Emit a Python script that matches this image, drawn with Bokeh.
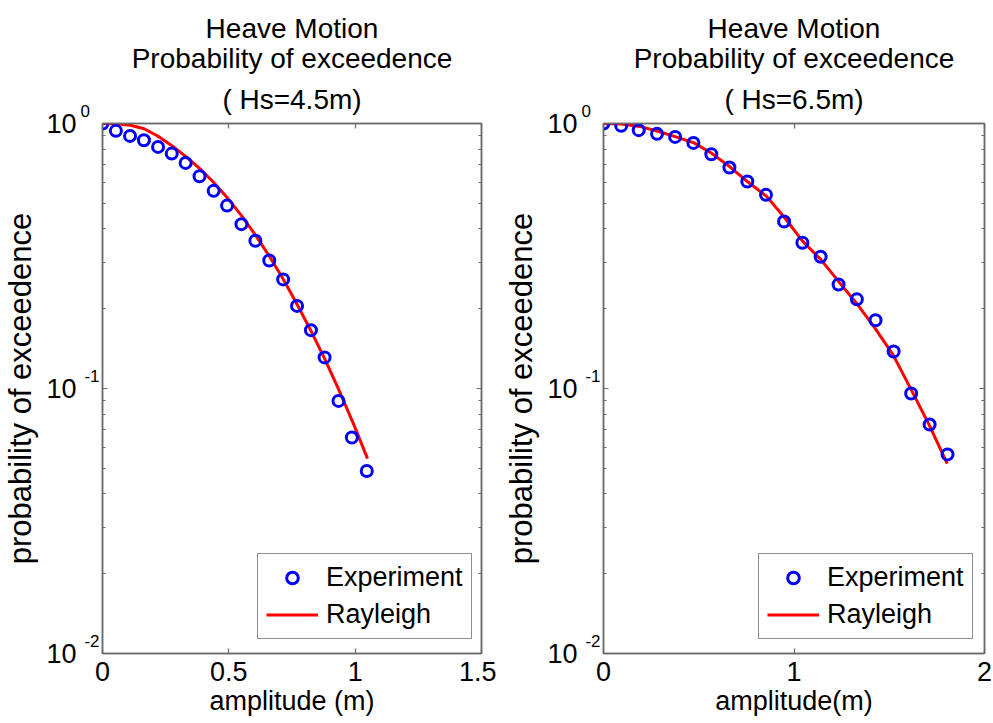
from bokeh.plotting import figure
from bokeh.layouts import row
from bokeh.models import (Range1d, FixedTicker, LinearAxis, LogAxis, Title, Legend,
                          LegendItem, NumeralTickFormatter, CustomJSTickFormatter)
from bokeh.embed import file_html
from bokeh.resources import INLINE

# ---------------- data ----------------
titles_left = ["Heave Motion", "Probability of exceedence", "( Hs=4.5m)"]
titles_right = ["Heave Motion", "Probability of exceedence", "( Hs=6.5m)"]
xlabel_left = "amplitude (m)"
xlabel_right = "amplitude(m)"
ylabel = "probability of exceedence"

left_exp_amp = [0, 0.053, 0.109, 0.164, 0.220, 0.274, 0.329, 0.384, 0.440, 0.493,
                0.550, 0.605, 0.660, 0.715, 0.770, 0.825, 0.879, 0.934, 0.987, 1.046]
left_exp_p = [1.0, 0.938, 0.898, 0.865, 0.816, 0.770, 0.710, 0.632, 0.557, 0.490,
              0.417, 0.361, 0.304, 0.258, 0.205, 0.166, 0.131, 0.0898, 0.0653, 0.0488]
left_ray_amp = [0, 0.055, 0.11, 0.165, 0.22, 0.275, 0.33, 0.385, 0.44, 0.495,
                0.55, 0.605, 0.66, 0.715, 0.77, 0.825, 0.88, 0.935, 0.99, 1.049]
left_ray_p = [1.0, 0.997, 0.985, 0.955, 0.895, 0.825, 0.750, 0.676, 0.599, 0.523,
              0.449, 0.380, 0.316, 0.259, 0.208, 0.165, 0.129, 0.099, 0.0748, 0.0544]

right_exp_amp = [0, 0.093, 0.185, 0.281, 0.376, 0.472, 0.566, 0.661, 0.755, 0.853,
                 0.948, 1.044, 1.140, 1.234, 1.330, 1.428, 1.523, 1.615, 1.712, 1.806]
right_exp_p = [1.0, 0.980, 0.944, 0.914, 0.890, 0.845, 0.766, 0.682, 0.604, 0.538,
               0.427, 0.355, 0.314, 0.247, 0.217, 0.181, 0.138, 0.0958, 0.0731, 0.0564]
right_ray_amp = [0, 0.095, 0.19, 0.285, 0.38, 0.475, 0.57, 0.665, 0.76, 0.855,
                 0.95, 1.045, 1.14, 1.235, 1.33, 1.425, 1.52, 1.615, 1.71, 1.804]
right_ray_p = [1.0, 0.995, 0.975, 0.935, 0.890, 0.845, 0.770, 0.685, 0.600, 0.532,
               0.442, 0.360, 0.307, 0.253, 0.209, 0.169, 0.134, 0.099, 0.0727, 0.0521]

left_xticks = [0, 0.5, 1, 1.5]
right_xticks = [0, 1, 2]
y_major = [0.01, 0.1, 1]
y_tick_base = ["10", "10", "10"]
y_tick_exponent = ["-2", "-1", "0\u00a0\u00a0"]
y_minor = [0.02, 0.03, 0.04, 0.05, 0.06, 0.07, 0.08, 0.09,
           0.2, 0.3, 0.4, 0.5, 0.6, 0.7, 0.8, 0.9]
series_names = ["Experiment", "Rayleigh"]

FONT = "Liberation Sans, DejaVu Sans"
AXCOL = "#6b6b6b"


def style_axis(ax):
    ax.axis_line_color = AXCOL
    ax.axis_line_width = 1.5
    ax.major_tick_line_color = AXCOL
    ax.minor_tick_line_color = AXCOL
    ax.major_tick_line_width = 1.2
    ax.minor_tick_line_width = 1.2
    ax.major_tick_in = 5
    ax.major_tick_out = 0
    ax.minor_tick_in = 3
    ax.minor_tick_out = 0
    ax.major_label_text_font = FONT
    ax.major_label_text_color = "black"


def make_panel(width, border_left, border_right, xmax, xticks, titles, xlabel,
               exp_amp, exp_p, ray_amp, ray_p):
    p = figure(width=width, height=723, output_backend="svg", toolbar_location=None,
               y_axis_type="log", x_range=Range1d(0, xmax), y_range=Range1d(0.01, 1),
               min_border_left=border_left, min_border_right=border_right,
               min_border_top=123, min_border_bottom=70)
    p.title.visible = False
    p.xgrid.visible = False
    p.ygrid.visible = False
    p.outline_line_color = AXCOL
    p.outline_line_width = 1.5

    bottom = p.below[0]
    left = p.left[0]

    xt = FixedTicker(ticks=xticks, minor_ticks=[])
    yt = FixedTicker(ticks=y_major, minor_ticks=y_minor)

    top = LinearAxis(ticker=xt, formatter=CustomJSTickFormatter(code="return ''"))
    right = LogAxis(ticker=yt, formatter=CustomJSTickFormatter(code="return ''"))
    p.add_layout(top, "above")
    p.add_layout(right, "right")

    bottom.ticker = xt
    left.ticker = yt

    for ax in [bottom, top, left, right]:
        style_axis(ax)
    for ax in [top, right]:
        ax.major_label_text_font_size = "1px"
        ax.major_label_standoff = 0

    bottom.formatter = NumeralTickFormatter(format="0.[0]")
    bottom.major_label_text_font_size = "27px"
    bottom.major_label_standoff = 8
    bottom.axis_label = xlabel
    bottom.axis_label_text_font = FONT
    bottom.axis_label_text_font_size = "27px"
    bottom.axis_label_text_font_style = "normal"
    bottom.axis_label_text_color = "black"
    bottom.axis_label_standoff = 2

    # inner left axis: the raised exponents (second, blank line lifts them)
    left.formatter = CustomJSTickFormatter(code="return ''")
    left.major_label_overrides = {v: e + "\n\u00a0" for v, e in zip(y_major, y_tick_exponent)}
    left.major_label_text_font_size = "17px"
    left.major_label_text_line_height = 1.3
    left.major_label_standoff = 3

    # outer left axis: the base "10" and the axis title
    outer = LogAxis(ticker=yt, formatter=CustomJSTickFormatter(code="return ''"))
    outer.major_label_overrides = dict(zip(y_major, y_tick_base))
    outer.axis_line_color = None
    outer.major_tick_line_color = None
    outer.minor_tick_line_color = None
    outer.major_tick_in = 0
    outer.major_tick_out = 0
    outer.minor_tick_in = 0
    outer.minor_tick_out = 0
    outer.major_label_text_font = FONT
    outer.major_label_text_font_size = "27px"
    outer.major_label_text_color = "black"
    outer.major_label_standoff = 1
    outer.axis_label = ylabel
    outer.axis_label_text_font = FONT
    outer.axis_label_text_font_size = "31px"
    outer.axis_label_text_font_style = "normal"
    outer.axis_label_text_color = "black"
    outer.axis_label_standoff = 5
    p.add_layout(outer, "left")

    # three-line title: nearest line added first
    for t, so in zip(reversed(titles), [18, -3, -2]):
        p.add_layout(Title(text=t, align="center", text_font=FONT,
                           text_font_size="28px", text_font_style="normal",
                           text_color="black", standoff=so), "above")

    r_ray = p.line(ray_amp, ray_p, line_color="#ff0000", line_width=3)
    r_exp = p.scatter(exp_amp, exp_p, marker="circle", size=11, fill_color=None,
                      line_color="#0000ff", line_width=3)

    legend = Legend(items=[LegendItem(label=series_names[0], renderers=[r_exp]),
                           LegendItem(label=series_names[1], renderers=[r_ray])],
                    location=(155, 14), orientation="vertical")
    legend.label_text_font = FONT
    legend.label_text_font_size = "27px"
    legend.label_text_color = "black"
    legend.glyph_width = 52
    legend.glyph_height = 29
    legend.label_height = 29
    legend.label_standoff = 8
    legend.spacing = 6
    legend.padding = 8
    legend.margin = 0
    legend.border_line_color = "#222222"
    legend.border_line_width = 1
    legend.background_fill_color = "white"
    legend.background_fill_alpha = 1
    p.add_layout(legend)
    return p


p1 = make_panel(496, 100, 15, 1.5, left_xticks, titles_left, xlabel_left,
                left_exp_amp, left_exp_p, left_ray_amp, left_ray_p)
p2 = make_panel(497, 107, 9, 2, right_xticks, titles_right, xlabel_right,
                right_exp_amp, right_exp_p, right_ray_amp, right_ray_p)

layout = row(p1, p2)
open("out.html", "w").write(file_html(layout, INLINE))
